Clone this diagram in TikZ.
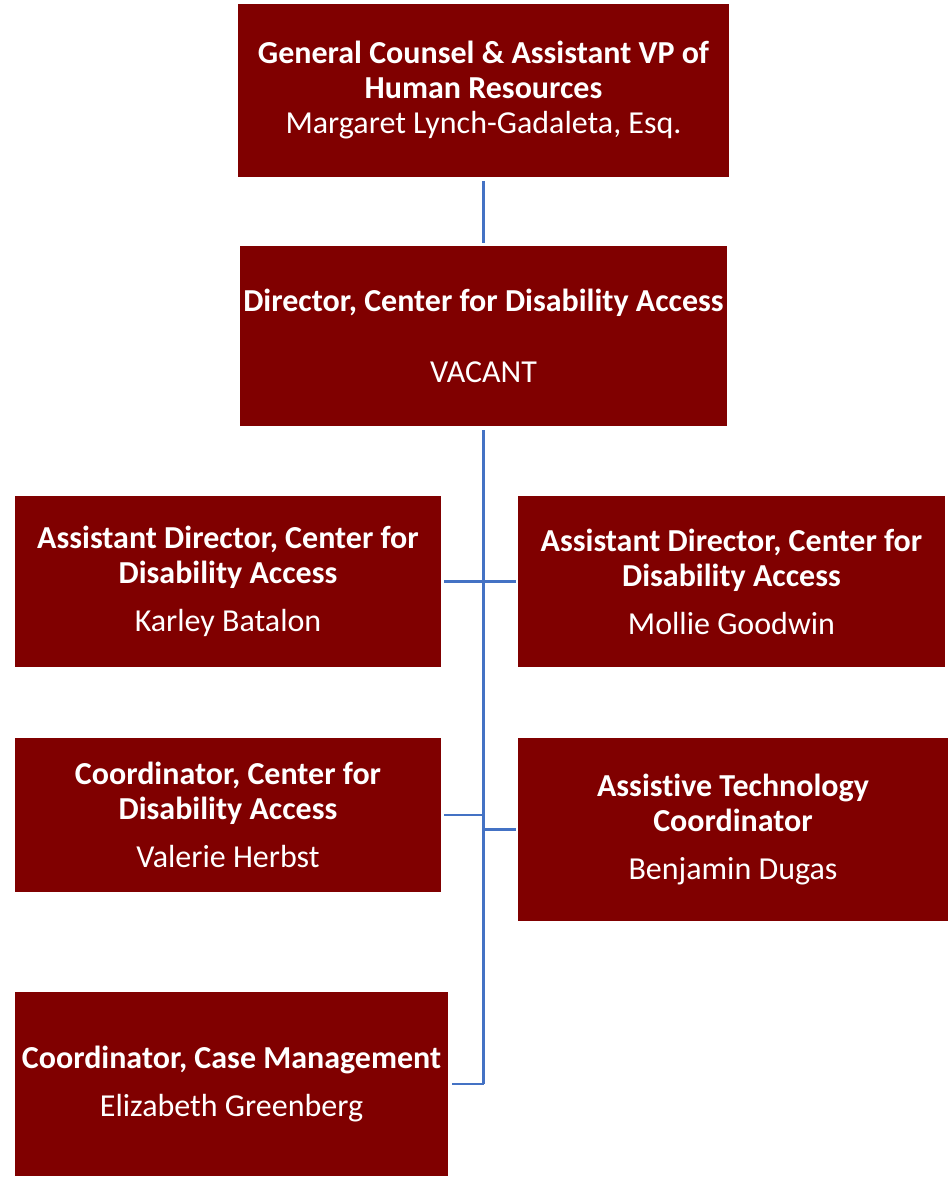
\documentclass[tikz,border=0pt]{standalone}
\usepackage{fontspec}
\setmainfont{Carlito}[Ligatures=NoCommon]
\usetikzlibrary{positioning}
\definecolor{cdaRed}{HTML}{800000}
\definecolor{linkBlue}{HTML}{4472C4}

\begin{document}
\begin{tikzpicture}
 [ x=1pt, y=-1pt
 , unit/.style={fill=cdaRed, text=white, align=center, inner sep=0pt, font=\fontsize{32}{35}\selectfont}
 , link/.style={draw=linkBlue, line width=2.6pt}
 , gap/.style={shorten <=4pt, shorten >=3pt}
 ]
  \useasboundingbox (0,0) rectangle (949,1178);

  % top of the chart
  \node [unit, minimum width=491pt, minimum height=173pt] (counsel) at (483.5,90.5)
    {\textbf{General Counsel \& Assistant VP of}\\\textbf{Human Resources}\\Margaret Lynch-Gadaleta, Esq.};
  \node [unit, minimum width=487pt, minimum height=180pt] (director) at (483.5,336)
    {\textbf{Director, Center for Disability Access}\\[36pt]VACANT};

  % staff
  \node [unit, minimum width=426pt, minimum height=171pt] (assistA) at (228,581.5)
    {\textbf{Assistant Director, Center for}\\\textbf{Disability Access}\\[13pt]Karley Batalon};
  \node [unit, minimum width=427pt, minimum height=171pt] (assistB) at (731.5,581.5)
    {\textbf{Assistant Director, Center for}\\\textbf{Disability Access}\\[13pt]Mollie Goodwin};
  \node [unit, minimum width=426pt, minimum height=154pt] (coordCDA) at (228,815)
    {\textbf{Coordinator, Center for}\\\textbf{Disability Access}\\[13pt]Valerie Herbst};
  \node [unit, minimum width=430pt, minimum height=183pt] (techCoord) at (733,829.5)
    {\textbf{Assistive Technology}\\\textbf{Coordinator}\\[13pt]Benjamin Dugas};
  \node [unit, minimum width=433pt, minimum height=184pt] (caseCoord) at (231.5,1084)
    {\textbf{Coordinator, Case Management}\\[13pt]Elizabeth Greenberg};

  \coordinate (trunkEnd) at (caseCoord.east -| director.south);

  % connectors
  \draw [link, gap] (counsel) -- (director);
  \draw [link, shorten <=4pt] (director.south) -- (trunkEnd);
  \draw [link, shorten <=3pt, shorten >=2pt] (assistA.east) -- (assistB.west);
  \draw [link, shorten <=3pt] (coordCDA.east) -- (coordCDA.east -| director.south);
  \draw [link, shorten >=2pt] (techCoord.west -| director.south) -- (techCoord.west);
  \draw [link, shorten <=4pt] (caseCoord.east) -- (trunkEnd);
\end{tikzpicture}
\end{document}
